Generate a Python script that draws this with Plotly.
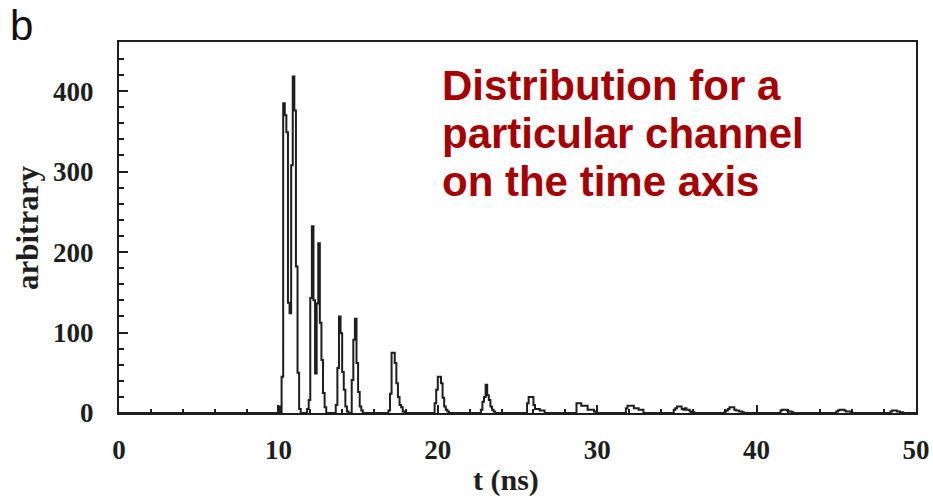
import plotly.graph_objects as go

# ---- data: histogram of arrival times, bin width 0.1 ns over 0..50 ns ----
BIN_WIDTH = 0.1
T_MIN, T_MAX = 0.0, 50.0

# each cluster: (start time of first bin in ns, counts per bin)
cluster_starts = [10.0, 11.8, 13.6, 16.9, 19.8, 22.7, 25.6, 28.7, 31.8, 34.8, 38.0, 41.5, 45.0, 48.4]
cluster_counts = [
    [8, 0, 45, 385, 370, 349, 137, 124, 308, 418, 376, 182, 50, 5],
    [5, 16, 143, 232, 140, 49, 136, 211, 112, 66, 25, 7],
    [10, 56, 120, 99, 51, 29, 8, 2, 0, 0, 41, 91, 117, 62, 26, 8, 3],
    [3, 24, 75, 75, 62, 37, 20, 10, 7, 2],
    [12, 29, 45, 45, 37, 19, 8, 4, 2],
    [4, 14, 20, 35, 22, 16, 8, 4, 2],
    [12, 20, 20, 20, 10, 5, 5, 5, 3, 3, 3],
    [12, 12, 12, 9, 9, 9, 9, 4, 4, 4, 4, 2],
    [6, 9, 9, 9, 9, 6, 6, 6, 4, 4, 4],
    [4, 6, 8, 8, 8, 5, 4, 6, 4, 4, 2, 1, 1],
    [2, 3, 5, 7, 7, 7, 4, 3, 3, 2, 2, 1],
    [3, 4, 4, 4, 3, 2, 2, 1],
    [2, 3, 4, 4, 4, 3, 2, 2, 2, 1],
    [2, 3, 3, 3, 2, 2, 1, 1],
]

x_tick_vals = [0, 10, 20, 30, 40, 50]
y_tick_vals = [0, 100, 200, 300, 400]
x_title = "t (ns)"
y_title = "arbitrary"
panel_label = "b"
annotation_lines = ["Distribution for a", "particular channel", "on the time axis"]

# ---- build full histogram from the lists ----
n_bins = int(round((T_MAX - T_MIN) / BIN_WIDTH))
counts = [0] * n_bins
for start, vals in zip(cluster_starts, cluster_counts):
    i0 = int(round((start - T_MIN) / BIN_WIDTH))
    for k, v in enumerate(vals):
        counts[i0 + k] = v
edges = [round(T_MIN + i * BIN_WIDTH, 4) for i in range(n_bins + 1)]
xs = edges
ys = counts + [counts[-1]]

INK = "#1e1e1e"
SERIF = "Liberation Serif"
SANS = "Liberation Sans"

# plot-area geometry in pixels
L, R, T, B = 119, 916, 42, 413
W, H = 933, 499
PW, PH = R - L, B - T


def px_x(x):
    return (x - L) / PW


def px_y(y):
    return (B - y) / PH


fig = go.Figure()
fig.add_trace(go.Scatter(
    x=xs, y=ys, mode="lines", line=dict(shape="hv", color=INK, width=2),
    hoverinfo="skip", showlegend=False,
))

fig.update_layout(
    width=W, height=H,
    margin=dict(l=L, r=W - R, t=T, b=H - B, autoexpand=False),
    paper_bgcolor="white", plot_bgcolor="white",
    showlegend=False,
)

fig.update_xaxes(
    range=[0, 50], tickvals=x_tick_vals, automargin=False,
    showgrid=False, zeroline=False,
    showline=True, mirror=True, linecolor=INK, linewidth=2,
    ticks="inside", ticklen=8, tickwidth=2, tickcolor=INK,
    minor=dict(dtick=2, ticks="inside", ticklen=4, tickwidth=2, tickcolor=INK),
    tickfont=dict(family=SERIF, size=27, color=INK, weight="bold"),
    ticklabelstandoff=12,
)
fig.update_yaxes(
    range=[0, 461], tickvals=y_tick_vals, automargin=False,
    showgrid=False, zeroline=False,
    showline=True, mirror=True, linecolor=INK, linewidth=2,
    ticks="inside", ticklen=9, tickwidth=2, tickcolor=INK,
    minor=dict(dtick=20, ticks="inside", ticklen=5, tickwidth=2, tickcolor=INK),
    tickfont=dict(family=SERIF, size=27, color=INK, weight="bold"),
    ticklabelstandoff=18,
)

# axis titles
fig.add_annotation(
    text=x_title, xref="paper", yref="paper", x=px_x(506), y=px_y(498),
    xanchor="center", yanchor="bottom", showarrow=False, borderpad=0,
    font=dict(family=SERIF, size=30, color=INK, weight="bold"),
)
fig.add_annotation(
    text=y_title, xref="paper", yref="paper", x=px_x(27), y=px_y(228),
    xanchor="center", yanchor="middle", showarrow=False, textangle=-90,
    font=dict(family=SERIF, size=31, color=INK, weight="bold"),
)

# panel letter
fig.add_annotation(
    text=panel_label, xref="paper", yref="paper", x=px_x(21), y=px_y(26),
    xanchor="center", yanchor="middle", showarrow=False,
    font=dict(family=SANS, size=42, color="#111111"),
)

# descriptive text (three lines)
line_centers_px = [85, 133, 181]
for txt, cy in zip(annotation_lines, line_centers_px):
    fig.add_annotation(
        text=txt, xref="paper", yref="paper",
        x=px_x(440), y=px_y(cy),
        xanchor="left", yanchor="middle", showarrow=False,
        font=dict(family=SANS, size=42, color="#a50000", weight="bold"),
    )

fig.write_html("out.html")
